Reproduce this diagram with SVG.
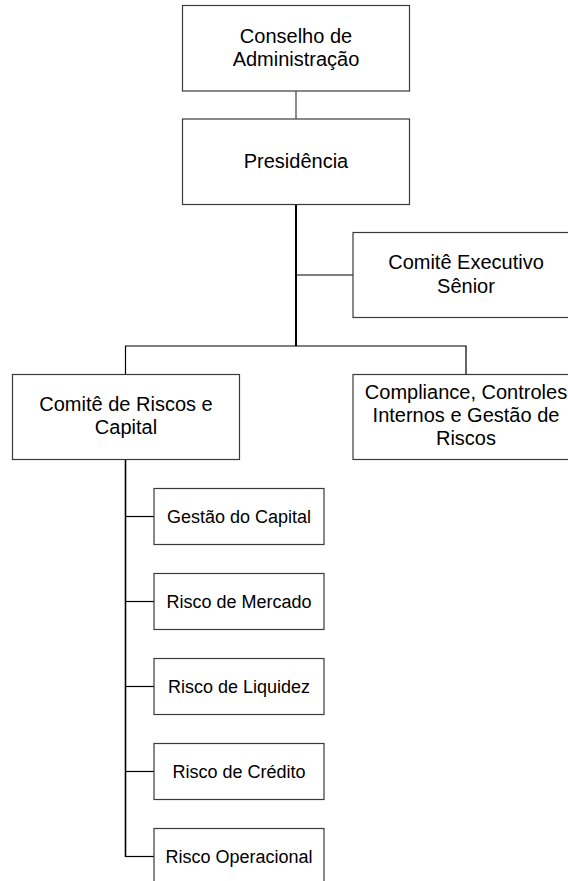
<svg xmlns="http://www.w3.org/2000/svg" width="568" height="881" viewBox="0 0 568 881">
<style>
.box{fill:#fff;stroke:#3a3a3a;stroke-width:1.2}
.t{font-family:"Liberation Sans",Arial,sans-serif;font-size:20px;fill:#000;text-anchor:middle}
.s{font-family:"Liberation Sans",Arial,sans-serif;font-size:18px;fill:#000;text-anchor:middle}
.c{fill:none;stroke:#000;stroke-width:1.2}
</style>
<rect width="568" height="881" fill="#fff"/>
<g id="connectors">
<line x1="296" y1="91" x2="296" y2="119" style="fill:none;stroke:#707070;stroke-width:1.6"/>
<line class="c" x1="296" y1="204" x2="296" y2="346" style="stroke-width:2"/>
<line class="c" x1="296" y1="275" x2="353" y2="275"/>
<polyline class="c" points="125.5,374 125.5,346 466,346 466,374"/>
<line class="c" x1="125.5" y1="459" x2="125.5" y2="857" style="stroke-width:1.6"/>
<line class="c" x1="125.5" y1="516.5" x2="154" y2="516.5"/>
<line class="c" x1="125.5" y1="601.5" x2="154" y2="601.5"/>
<line class="c" x1="125.5" y1="686.5" x2="154" y2="686.5"/>
<line class="c" x1="125.5" y1="771.5" x2="154" y2="771.5"/>
<line class="c" x1="125.5" y1="856.5" x2="154" y2="856.5"/>
</g>
<g id="conselho">
<rect class="box" x="182.5" y="5.5" width="227" height="85.5"/>
<text class="t" x="296" y="42.5">Conselho de</text>
<text class="t" x="296" y="65.5">Administração</text>
</g>
<g id="presidencia">
<rect class="box" x="182.5" y="119" width="227" height="85.5"/>
<text class="t" x="296" y="168">Presidência</text>
</g>
<g id="comite-executivo">
<rect class="box" x="353" y="232.5" width="227" height="85"/>
<text class="t" x="466" y="268.5">Comitê Executivo</text>
<text class="t" x="466" y="292.5">Sênior</text>
</g>
<g id="comite-riscos">
<rect class="box" x="12.5" y="374.5" width="227" height="85"/>
<text class="t" x="126" y="410.5">Comitê de Riscos e</text>
<text class="t" x="126" y="433.5">Capital</text>
</g>
<g id="compliance">
<rect class="box" x="353" y="374.5" width="227" height="85"/>
<text class="t" x="466" y="399">Compliance, Controles</text>
<text class="t" x="466" y="422">Internos e Gestão de</text>
<text class="t" x="466" y="445">Riscos</text>
</g>
<g id="gestao-capital">
<rect class="box" x="154" y="488.5" width="170" height="56"/>
<text class="s" x="239" y="523">Gestão do Capital</text>
</g>
<g id="risco-mercado">
<rect class="box" x="154" y="573.5" width="170" height="56"/>
<text class="s" x="239" y="608">Risco de Mercado</text>
</g>
<g id="risco-liquidez">
<rect class="box" x="154" y="658.5" width="170" height="56"/>
<text class="s" x="239" y="693">Risco de Liquidez</text>
</g>
<g id="risco-credito">
<rect class="box" x="154" y="743.5" width="170" height="56"/>
<text class="s" x="239" y="778">Risco de Crédito</text>
</g>
<g id="risco-operacional">
<rect class="box" x="154" y="828.5" width="170" height="56"/>
<text class="s" x="239" y="863">Risco Operacional</text>
</g>
</svg>
